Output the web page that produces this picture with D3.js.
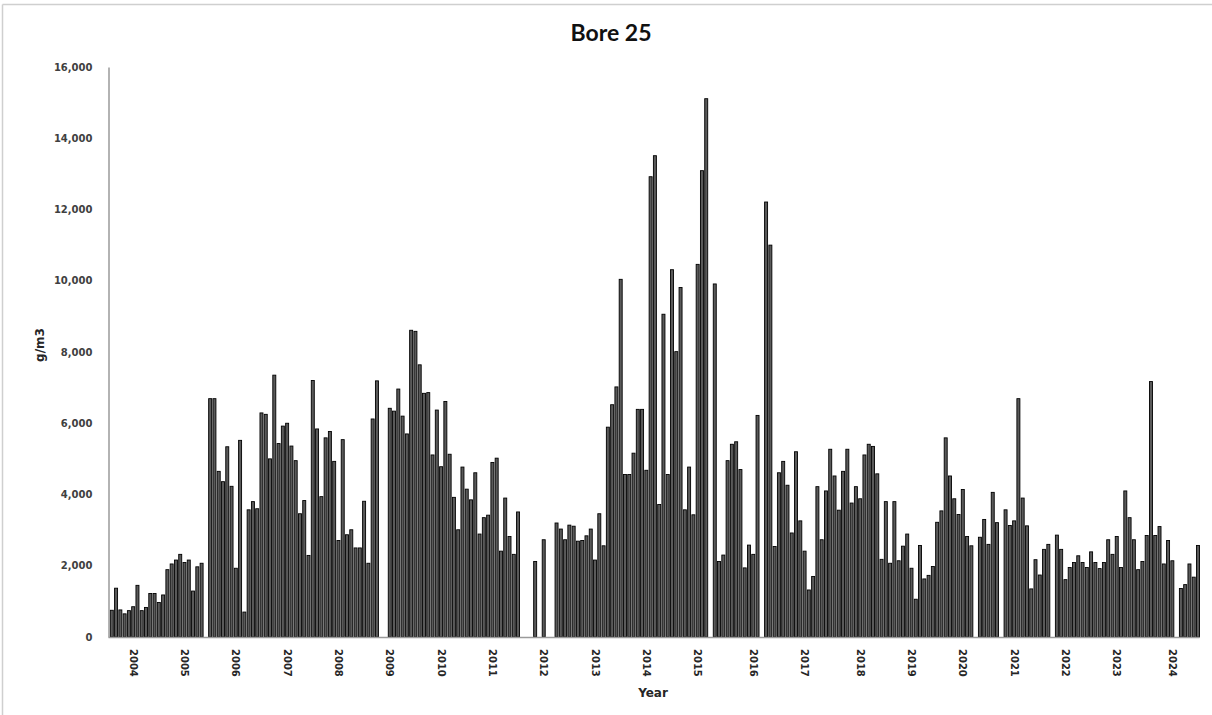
<!DOCTYPE html>
<html>
<head>
<meta charset="utf-8">
<script src="https://cdn.jsdelivr.net/npm/d3@7"></script>
<style>
  html, body { margin: 0; padding: 0; background: #fff; }
  svg { display: block; }
</style>
</head>
<body>
<svg id="chart" width="1212" height="715"></svg>
<script>
// ---- Data ----
const chartTitle = "Bore 25";
const yAxisTitle = "g/m3";
const xAxisTitle = "Year";

// One value per sample slot (chronological), null = no sample
const values = [
  750, 1370, 760, 650, 740, 850, 1450, 740, 830, 1220,
  1220, 970, 1180, 1890, 2050, 2160, 2320, 2090, 2160, 1290,
  1970, 2070, null, 6690, 6690, 4650, 4360, 5340, 4230, 1930,
  5520, 700, 3570, 3800, 3600, 6290, 6250, 5000, 7350, 5430,
  5920, 6000, 5360, 4950, 3460, 3830, 2290, 7200, 5840, 3940,
  5590, 5770, 4930, 2710, 5540, 2870, 3010, 2500, 2500, 3810,
  2070, 6120, 7190, null, null, 6420, 6340, 6960, 6200, 5700,
  8610, 8580, 7640, 6840, 6860, 5110, 6370, 4780, 6610, 5130,
  3920, 3010, 4770, 4150, 3850, 4610, 2890, 3350, 3420, 4900,
  5020, 2410, 3900, 2820, 2320, 3510, null, null, null, 2120,
  null, 2730, null, null, 3200, 3030, 2730, 3140, 3110, 2690,
  2710, 2840, 3030, 2160, 3460, 2560, 5890, 6520, 7020, 10040,
  4560, 4560, 5160, 6390, 6390, 4680, 12920, 13510, 3720, 9060,
  4560, 10310, 8010, 9810, 3570, 4770, 3430, 10460, 13090, 15110,
  null, 9910, 2120, 2300, 4950, 5410, 5480, 4700, 1940, 2580,
  2320, 6220, null, 12210, 11000, 2540, 4610, 4930, 4260, 2920,
  5200, 3260, 2410, 1320, 1700, 4220, 2730, 4100, 5270, 4520,
  3560, 4650, 5270, 3760, 4220, 3880, 5110, 5410, 5350, 4580,
  2180, 3800, 2070, 3800, 2140, 2550, 2890, 1930, 1060, 2570,
  1630, 1730, 1980, 3220, 3540, 5590, 4520, 3880, 3440, 4140,
  2820, 2560, null, 2800, 3300, 2600, 4060, 3210, null, 3570,
  3130, 3260, 6690, 3900, 3120, 1350, 2170, 1740, 2460, 2600,
  null, 2860, 2460, 1610, 1950, 2090, 2280, 2090, 1950, 2390,
  2090, 1920, 2090, 2730, 2320, 2820, 1950, 4100, 3350, 2730,
  1890, 2120, 2850, 7170, 2850, 3100, 2050, 2710, 2140, null,
  1360, 1470, 2050, 1680, 2570
];

// Year labels and the sample slot (1-based) each label sits under
const yearLabels = ["2004","2005","2006","2007","2008","2009","2010","2011","2012","2013",
                    "2014","2015","2016","2017","2018","2019","2020","2021","2022","2023","2024"];
const yearLabelSlots = [6, 18, 30, 42, 54, 66, 78, 90, 102, 114,
                        126, 138, 151, 163, 176, 188, 200, 212, 224, 236, 249];

const yTicks = [0, 2000, 4000, 6000, 8000, 10000, 12000, 14000, 16000];

// ---- Layout ----
const plotLeft = 108.5, plotRight = 1199.5, plotTop = 67, plotBottom = 637;

const svg = d3.select("#chart");

const slots = d3.range(1, values.length + 1);
const x = d3.scaleBand()
  .domain(slots)
  .range([110.3, plotRight])
  .paddingInner(0.3)
  .paddingOuter(0.0);

const y = d3.scaleLinear().domain([0, 16000]).range([plotBottom, plotTop]);

// outer chart border (top + left visible in reference)
svg.append("line").attr("x1", 2.5).attr("x2", 1212).attr("y1", 4.5).attr("y2", 4.5)
  .attr("stroke", "#cfcfcf").attr("stroke-width", 1.5);
svg.append("line").attr("x1", 2.5).attr("x2", 2.5).attr("y1", 4.5).attr("y2", 715)
  .attr("stroke", "#cfcfcf").attr("stroke-width", 1.5);

// bars
const data = values.map((v, i) => ({ slot: slots[i], v }));
svg.append("g")
  .selectAll("rect")
  .data(data.filter(d => d.v !== null))
  .join("rect")
  .attr("x", d => x(d.slot))
  .attr("width", x.bandwidth())
  .attr("y", d => y(d.v))
  .attr("height", d => y(0) - y(d.v))
  .attr("fill", "#5a5a5a")
  .attr("stroke", "#000")
  .attr("stroke-width", 0.9);

// y axis (line + labels, no ticks)
const yAxis = d3.axisLeft(y)
  .tickValues(yTicks)
  .tickSize(0)
  .tickPadding(16)
  .tickFormat(d3.format(","));
const gy = svg.append("g").attr("transform", `translate(${plotLeft},0)`).call(yAxis);
gy.select(".domain").attr("stroke", "#9a9a9a").attr("stroke-width", 1.5);
gy.selectAll("text")
  .attr("font-family", "DejaVu Sans, Verdana, sans-serif")
  .attr("font-weight", "bold")
  .attr("font-size", "10px")
  .attr("fill", "#404040");

// x axis baseline with year labels
const xAxis = d3.axisBottom(x)
  .tickValues(yearLabelSlots)
  .tickSize(0)
  .tickFormat(d => yearLabels[yearLabelSlots.indexOf(d)]);
const gx = svg.append("g").attr("transform", `translate(0,${plotBottom})`).call(xAxis);
gx.select(".domain").attr("d", `M${plotLeft},0.5H${plotRight}`)
  .attr("stroke", "#9a9a9a").attr("stroke-width", 1.5);
gx.selectAll("text")
  .attr("font-family", "DejaVu Sans, Verdana, sans-serif")
  .attr("font-weight", "bold")
  .attr("font-size", "10px")
  .attr("fill", "#262626")
  .attr("text-anchor", "start")
  .attr("transform", "rotate(90)")
  .attr("x", 12)
  .attr("y", 0)
  .attr("dy", "0.35em");

// titles
svg.append("text")
  .attr("x", 611).attr("y", 41)
  .attr("text-anchor", "middle")
  .attr("font-family", "Lato, 'Open Sans', sans-serif")
  .attr("font-weight", "bold")
  .attr("font-size", "23px")
  .attr("fill", "#111")
  .text(chartTitle);

svg.append("text")
  .attr("x", 653).attr("y", 697)
  .attr("text-anchor", "middle")
  .attr("font-family", "DejaVu Sans, Verdana, sans-serif")
  .attr("font-weight", "bold")
  .attr("font-size", "12px")
  .attr("fill", "#262626")
  .text(xAxisTitle);

svg.append("text")
  .attr("transform", "translate(44,345) rotate(-90)")
  .attr("text-anchor", "middle")
  .attr("font-family", "DejaVu Sans, Verdana, sans-serif")
  .attr("font-weight", "bold")
  .attr("font-size", "12px")
  .attr("fill", "#262626")
  .text(yAxisTitle);
</script>
</body>
</html>
